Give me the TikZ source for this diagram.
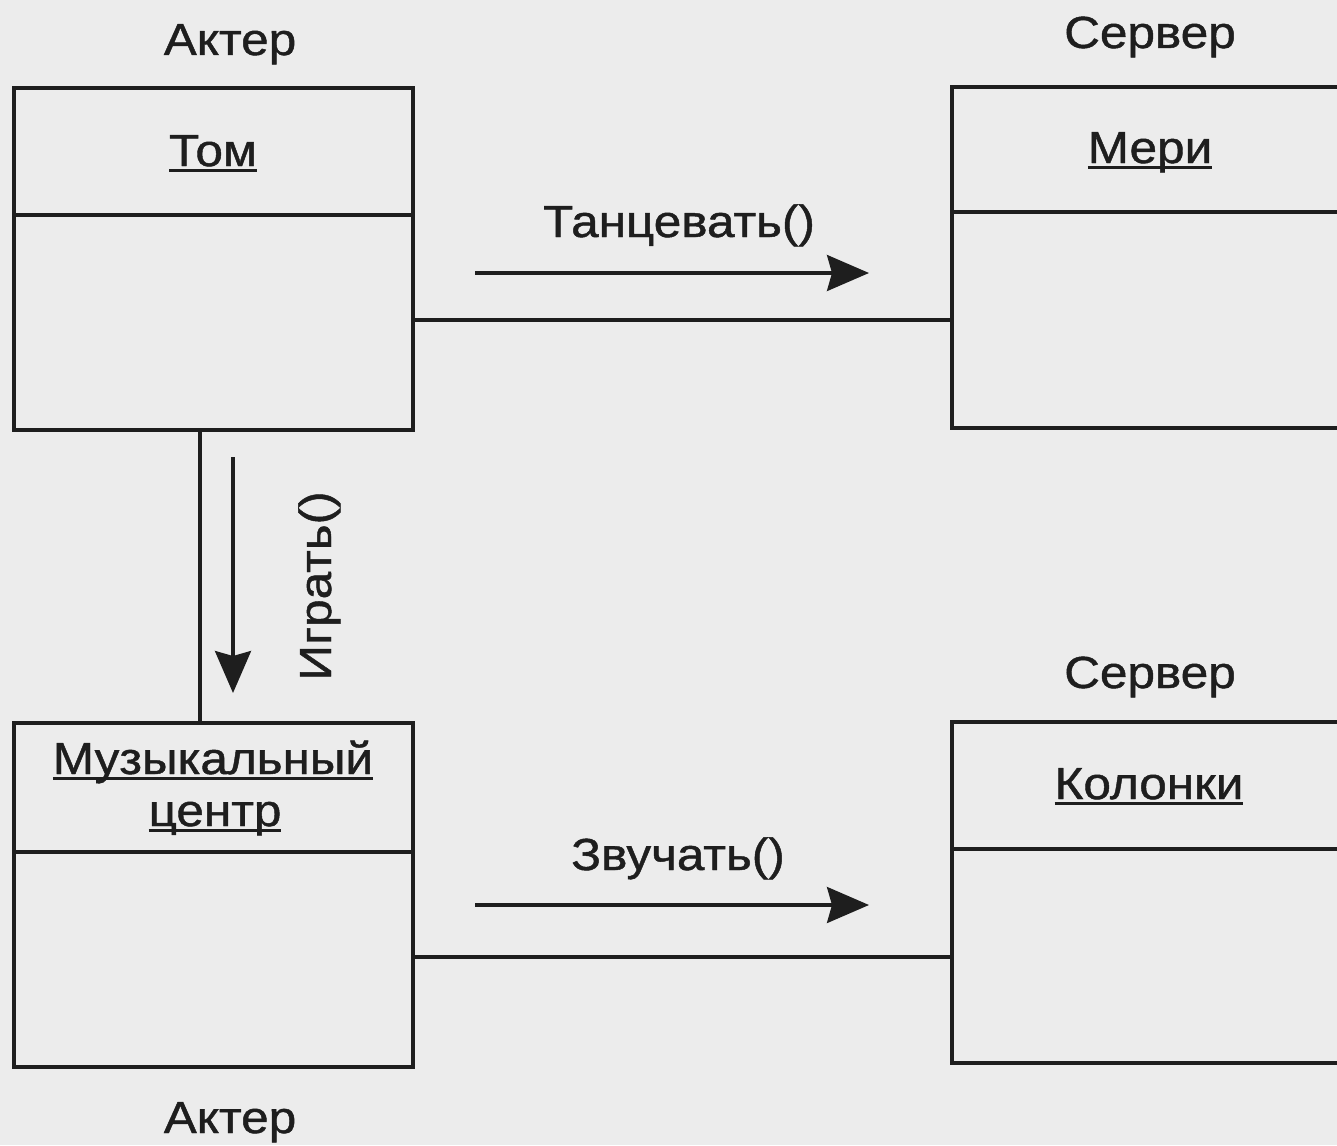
\documentclass[tikz,border=0pt]{standalone}
\usepackage{fontspec}
\setmainfont{Liberation Sans}[FakeStretch=1.1,FakeBold=1]
\usetikzlibrary{arrows.meta}
\definecolor{paper}{RGB}{236,236,236}
\definecolor{ink}{RGB}{30,30,30}
\newcommand\undl[1]{\setbox0\hbox{#1}\rlap{\rule[-5.5pt]{\wd0}{3pt}}\box0}
\tikzset{
  obj/.style={draw=ink, line width=3.6pt, inner sep=0pt, outer sep=0pt, minimum width=399pt},
  objr/.style={draw=ink, line width=3.6pt, inner sep=0pt, outer sep=0pt, minimum width=460pt},
  txt/.style={text=ink, inner sep=0pt, anchor=base, font=\fontsize{45}{52}\selectfont},
  link/.style={draw=ink, line width=3.6pt},
  msg/.style={draw=ink, line width=3.2pt, -{Stealth[length=42pt,width=36pt,inset=5pt]}},
  divider/.style={draw=ink, line width=3.6pt}
}
\begin{document}
\begin{tikzpicture}[x=1pt,y=-1pt]
\useasboundingbox (0,0) rectangle (1337,1145);
\clip (0,0) rectangle (1337,1145);
\fill[paper] (0,0) rectangle (1337,1145);

% boxes
\node[obj, minimum height=342pt] (tom) at (213.5,259) {};
\node[obj, minimum height=344pt] (music) at (213.5,895) {};
\node[objr, minimum height=341pt] (mary) at (1182,257.5) {};
\node[objr, minimum height=341pt] (spk) at (1182,892.5) {};

% dividers
\coordinate (tomdiv) at (0,215);
\coordinate (musicdiv) at (0,852);
\coordinate (marydiv) at (0,212);
\coordinate (spkdiv) at (0,849);
\draw[divider] (tom.west |- tomdiv) -- (tom.east |- tomdiv);
\draw[divider] (music.west |- musicdiv) -- (music.east |- musicdiv);
\draw[divider] (mary.west |- marydiv) -- (mary.east |- marydiv);
\draw[divider] (spk.west |- spkdiv) -- (spk.east |- spkdiv);

% stereotype labels
\node[txt] (st1) at (230,55) {Актер};
\node[txt] (st2) at (1150,48) {Сервер};
\node[txt] (st3) at (1150,688) {Сервер};
\node[txt] (st4) at (230,1133) {Актер};

% object names
\node[txt] (n1) at (213,166) {\undl{Том}};
\node[txt] (n2) at (1150,163) {\undl{Мери}};
\node[txt] (n3a) at (213,774) {\undl{Музыкальный}};
\node[txt] (n3b) at (215,826) {\undl{центр}};
\node[txt] (n4) at (1149,799) {\undl{Колонки}};

% links
\coordinate (l1) at (0,320);
\coordinate (l2) at (0,957);
\coordinate (lv) at (200,0);
\draw[link] (tom.east |- l1) -- (mary.west |- l1);
\draw[link] (music.east |- l2) -- (spk.west |- l2);
\draw[link] (tom.south -| lv) -- (music.north -| lv);

% messages
\coordinate (m1s) at (475,273);
\coordinate (m1e) at (869,273);
\coordinate (m2s) at (475,905);
\coordinate (m2e) at (869,905);
\coordinate (m3s) at (233,457);
\coordinate (m3e) at (233,693);
\draw[msg] (m1s) -- (m1e);
\draw[msg] (m2s) -- (m2e);
\draw[msg] (m3s) -- (m3e);
\node[txt] (t1) at (679,237) {Танцевать()};
\node[txt] (t2) at (678,870) {Звучать()};
\node[txt, rotate=90] (t3) at (331,586) {Играть()};
\end{tikzpicture}
\end{document}
